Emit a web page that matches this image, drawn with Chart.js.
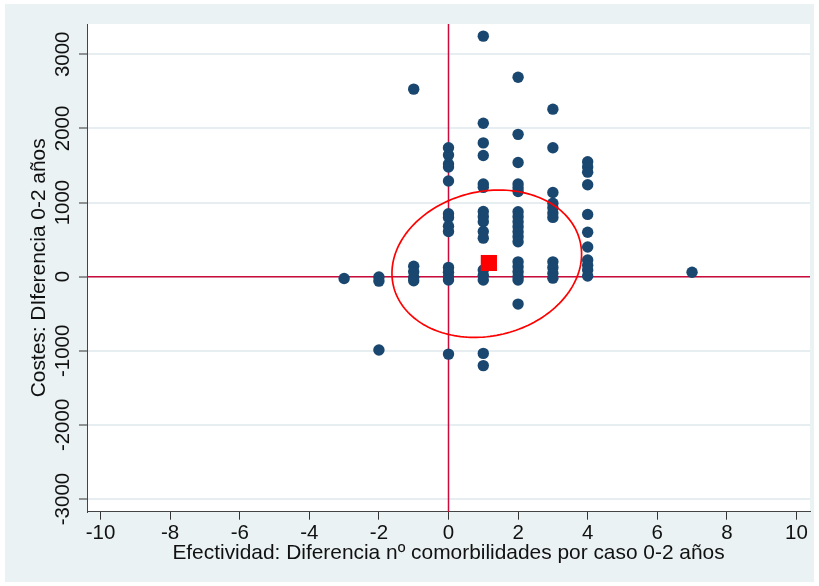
<!DOCTYPE html>
<html><head><meta charset="utf-8">
<script src="https://cdn.jsdelivr.net/npm/chart.js@4.4.1/dist/chart.umd.min.js"></script>
<style>html,body{margin:0;padding:0;background:#fff}canvas{display:block}</style>
</head><body>
<canvas id="c" width="819" height="586"></canvas>
<script>
// ---- data ----
const xTicks = [-10, -8, -6, -4, -2, 0, 2, 4, 6, 8, 10];
const yTicks = [-3000, -2000, -1000, 0, 1000, 2000, 3000];
const xTitle = 'Efectividad: Diferencia nº comorbilidades por caso 0-2 años';
const yTitle = 'Costes: DIferencia 0-2 años';

// effectiveness difference (x) and cost difference (y), one entry per case
const effX = [
  -3,
  -2, -2, -2,
  -1, -1, -1, -1, -1,
  0, 0, 0, 0, 0, 0, 0, 0, 0, 0, 0, 0, 0, 0,
  1, 1, 1, 1, 1, 1, 1, 1, 1, 1, 1, 1, 1, 1, 1, 1,
  2, 2, 2, 2, 2, 2, 2, 2, 2, 2, 2, 2, 2, 2, 2, 2, 2, 2, 2,
  3, 3, 3, 3, 3, 3, 3, 3, 3, 3, 3,
  4, 4, 4, 4, 4, 4, 4, 4, 4, 4, 4,
  7
];
const costY = [
  -25,
  -5, -60, -990,
  2530, 140, 65, -10, -55,
  1740, 1640, 1520, 1480, 1290, 850, 800, 680, 610, 125, 60, 0, -45, -1045,
  3245, 2070, 1805, 1635, 1250, 1205, 880, 810, 740, 610, 520, 90, 20, -45, -1035, -1200,
  2690, 1920, 1540, 1250, 1200, 1150, 875, 810, 740, 675, 605, 540, 470, 200, 135, 65, 0, -45, -370,
  2260, 1740, 1135, 990, 930, 860, 800, 200, 125, 45, -20,
  1550, 1480, 1410, 1240, 840, 600, 400, 225, 155, 90, 10,
  60
];
// mean point (red square)
const meanX = [1.16];
const meanY = [185];
// confidence ellipse: centre, half-ranges and correlation
const ellCx = 1.10, ellCy = 175, ellSx = 2.725, ellSy = 994, ellRho = 0.13;
// axis ranges
const xMin = -10.39, xMax = 10.39, yMin = -3171, yMax = 3409;

// ---- chart ----
const pts = effX.map((x, i) => ({x: x, y: costY[i]}));
const meanPts = meanX.map((x, i) => ({x: x, y: meanY[i]}));
const FAM = "'Liberation Sans', Arial, Helvetica, sans-serif";
const FONT = {family: FAM, size: 20.5};
const TFONT = {family: FAM, size: 20.9};
const TXT = '#111';

const deco = {
  id: 'deco',
  beforeDraw(chart) {
    const ctx = chart.ctx, a = chart.chartArea;
    ctx.save();
    ctx.fillStyle = '#ffffff';
    ctx.fillRect(0, 0, chart.width, chart.height);
    ctx.fillStyle = '#eaf2f3';
    ctx.fillRect(5, 4, chart.width - 10, chart.height - 8);
    ctx.fillStyle = '#ffffff';
    ctx.fillRect(a.left, a.top, a.right - a.left, a.bottom - a.top);
    ctx.restore();
  },
  beforeDatasetsDraw(chart) {
    const ctx = chart.ctx, a = chart.chartArea;
    const sx = chart.scales.x, sy = chart.scales.y;
    const px = sx.getPixelForValue(0), py = sy.getPixelForValue(0);
    ctx.save();
    ctx.strokeStyle = '#cc0a3c';
    ctx.lineWidth = 1.5;
    ctx.beginPath();
    ctx.moveTo(px, a.top); ctx.lineTo(px, a.bottom);
    ctx.moveTo(a.left, py); ctx.lineTo(a.right, py);
    ctx.stroke();
    ctx.restore();
  },
  afterDatasetsDraw(chart) {
    const ctx = chart.ctx;
    const sx = chart.scales.x, sy = chart.scales.y;
    const k = Math.sqrt(1 - ellRho * ellRho);
    ctx.save();
    ctx.strokeStyle = '#ff0000';
    ctx.lineWidth = 1.7;
    ctx.beginPath();
    const n = 180;
    for (let i = 0; i <= n; i++) {
      const t = i / n * 2 * Math.PI;
      const dx = ellCx + ellSx * Math.cos(t);
      const dy = ellCy + ellSy * (ellRho * Math.cos(t) + k * Math.sin(t));
      const X = sx.getPixelForValue(dx), Y = sy.getPixelForValue(dy);
      if (i === 0) ctx.moveTo(X, Y); else ctx.lineTo(X, Y);
    }
    ctx.closePath();
    ctx.stroke();
    const m = chart.getDatasetMeta(1);
    m.data.forEach(el => el.draw(ctx));
    ctx.restore();
  }
};

new Chart(document.getElementById('c'), {
  type: 'scatter',
  data: {
    datasets: [
      {data: pts, backgroundColor: '#1a476f', borderWidth: 0, pointRadius: 5.7, pointHoverRadius: 5.7, order: 2},
      {data: meanPts, pointStyle: 'rect', backgroundColor: '#ff0000', borderWidth: 0, pointRadius: 11.3, pointHoverRadius: 11.3, order: 1}
    ]
  },
  options: {
    responsive: false,
    animation: false,
    devicePixelRatio: 1,
    events: [],
    layout: {autoPadding: false, padding: {left: 0, right: 9, top: 24, bottom: 0}},
    plugins: {legend: {display: false}, tooltip: {enabled: false}},
    scales: {
      x: {
        type: 'linear', position: 'bottom', min: xMin, max: xMax,
        afterBuildTicks: s => { s.ticks = xTicks.map(v => ({value: v})); },
        afterFit: s => { s.height = 74.3; },
        grid: {display: true, drawOnChartArea: false, drawTicks: true, tickLength: 8, tickColor: '#333', tickWidth: 1},
        border: {display: true, color: '#444', width: 1},
        ticks: {autoSkip: false, maxRotation: 0, minRotation: 0, padding: 1.5, color: TXT, font: FONT,
          callback: v => String(v)},
        title: {display: true, text: xTitle, color: TXT, font: TFONT, padding: {top: 0, bottom: 20.0}}
      },
      y: {
        type: 'linear', position: 'left', min: yMin, max: yMax,
        afterBuildTicks: s => { s.ticks = yTicks.map(v => ({value: v})); },
        afterFit: s => { s.width = 87; },
        grid: {display: true, drawOnChartArea: true, drawTicks: true, tickLength: 8, color: '#e6eef1', lineWidth: 2, tickColor: '#333', tickWidth: 1},
        border: {display: true, color: '#444', width: 1},
        ticks: {autoSkip: false, minRotation: 90, maxRotation: 90, crossAlign: 'center', padding: -10.5, color: TXT, font: FONT,
          callback: v => String(v)},
        title: {display: true, text: yTitle, color: TXT, font: TFONT, padding: {top: 26.7, bottom: 0}}
      }
    }
  },
  plugins: [deco]
});
</script>
</body></html>
